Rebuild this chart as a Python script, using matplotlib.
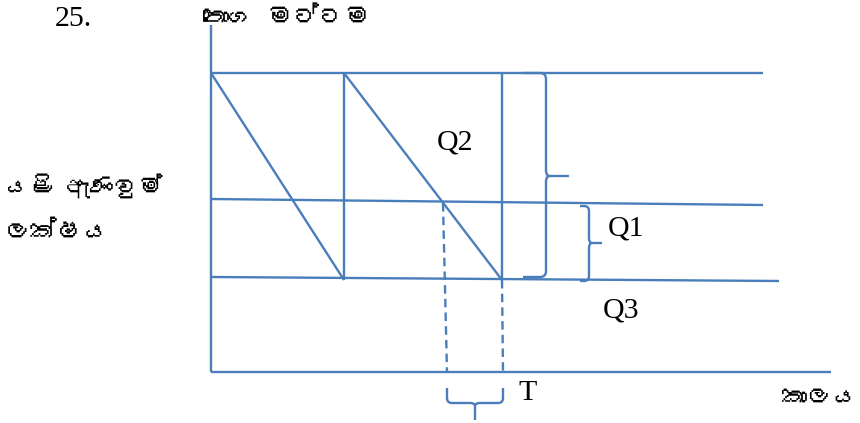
import matplotlib
matplotlib.use("Agg")
import matplotlib.pyplot as plt
from matplotlib.path import Path
from matplotlib.patches import PathPatch
from matplotlib import font_manager
from matplotlib.ft2font import FT2Font

# ---- diagram data (pixel-like units, y grows downward) ----
axis_origin = [211, 372]          # time axis / stock axis origin
axis_top = 25
axis_right = 831
max_level = 73                    # maximum stock level line
max_level_end = 763
reorder_level = [199, 205]        # reorder point line (left, right)
reorder_end = 763
safety_level = [277, 281]         # lowest stock line (left, right)
safety_end = 779
cycle_times = [211, 344, 502]     # starts / ends of depletion cycles
cycle_bottom = 280
lead_start = [443, 447]           # dashed line at reorder point (top x, bottom x)
lead_end = [502, 503]

labels_serif = ["25.", "Q2", "Q1", "Q3", "T"]
labels_serif_pos = [(55, 26), (437, 150), (608, 235), (603, 318), (518, 400)]
labels_si = ["තොග මට්ටම", "යළි ඇණවුම්", "ලක්ෂය", "කාලය"]
labels_si_pos = [(203, 25), (5, 195), (5, 240), (781, 405)]
labels_si_size = [18.5, 17.5, 19, 18.5]

BLUE = "#4A7EBB"
LW = 1.7

# ---- find a font with Sinhala glyphs if one exists ----
si_family = []
for fe in font_manager.fontManager.ttflist:
    try:
        cm = FT2Font(fe.fname).get_charmap()
    except Exception:
        continue
    if 0x0DC3 in cm and 0x0DCA in cm:
        si_family = [fe.name]
        break
si_family = si_family + ["DejaVu Sans"]

fig = plt.figure(figsize=(8.6, 4.23), dpi=100)
ax = fig.add_axes([0, 0, 1, 1])
ax.set_xlim(0, 860)
ax.set_ylim(423, 0)
ax.axis("off")

def line(xs, ys, **kw):
    ax.plot(xs, ys, color=BLUE, lw=LW, solid_capstyle="butt", **kw)

# axes
line([axis_origin[0], axis_origin[0]], [axis_top, axis_origin[1]])
line([axis_origin[0], axis_right], [axis_origin[1], axis_origin[1]])
# level lines
line([axis_origin[0], max_level_end], [max_level, max_level])
line([axis_origin[0], reorder_end], reorder_level)
line([axis_origin[0], safety_end], safety_level)
# sawtooth
line([cycle_times[0], cycle_times[1]], [max_level, cycle_bottom])
line([cycle_times[1], cycle_times[1]], [cycle_bottom, max_level])
line([cycle_times[1], cycle_times[2]], [max_level, cycle_bottom])
line([cycle_times[2], cycle_times[2]], [cycle_bottom, max_level])
# dashed lead-time lines
ax.plot(lead_start, [reorder_level[0] + 4, axis_origin[1]], color=BLUE, lw=LW,
        dashes=(3.6, 2.2))
ax.plot(lead_end, [cycle_bottom, axis_origin[1]], color=BLUE, lw=LW,
        dashes=(3.6, 2.2))

def brace(a, b, tip, main, end_d, tip_d, r, vertical=True, sign=1):
    """Curly brace along coordinate s in [a,b]; offset coordinate: main line at `main`,
    ends at main - sign*end_d, tip at main + sign*tip_d."""
    def P(s, off):
        o = main + sign * off
        return (o, s) if vertical else (s, o)
    k = min(r, tip_d) * 0.6
    verts = [P(a, -end_d), P(a, -r), P(a, 0), P(a + r, 0),
             P(tip - r, 0), P(tip, 0), P(tip, k),
             P(tip, tip_d)]
    codes = [Path.MOVETO, Path.LINETO, Path.CURVE3, Path.CURVE3,
             Path.LINETO, Path.CURVE3, Path.CURVE3, Path.LINETO]
    ax.add_patch(PathPatch(Path(verts, codes), fill=False, edgecolor=BLUE, lw=LW))
    verts2 = [P(tip, k), P(tip, 0), P(tip + r, 0),
              P(b - r, 0), P(b, 0), P(b, -r), P(b, -end_d)]
    codes2 = [Path.MOVETO, Path.CURVE3, Path.CURVE3,
              Path.LINETO, Path.CURVE3, Path.CURVE3, Path.LINETO]
    ax.add_patch(PathPatch(Path(verts2, codes2), fill=False, edgecolor=BLUE, lw=LW))

# Q2 brace (max level to lowest level)
brace(73, 277, 176, 546, 23, 23, 6)
# Q1 brace (reorder level to lowest level)
brace(206, 281, 243, 589, 9, 13, 5)
# T brace (lead time, horizontal)
brace(447, 503, 475, 403, 15, 17, 5, vertical=False)

for t, (x, y) in zip(labels_serif, labels_serif_pos):
    ax.text(x, y, t, family=["Liberation Serif", "DejaVu Serif"], fontsize=21.5,
            ha="left", va="baseline", color="black")
for t, (x, y), s in zip(labels_si, labels_si_pos, labels_si_size):
    ax.text(x, y, t, family=si_family, fontsize=s,
            ha="left", va="baseline", color="black")

fig.savefig("out.png", dpi=100)
